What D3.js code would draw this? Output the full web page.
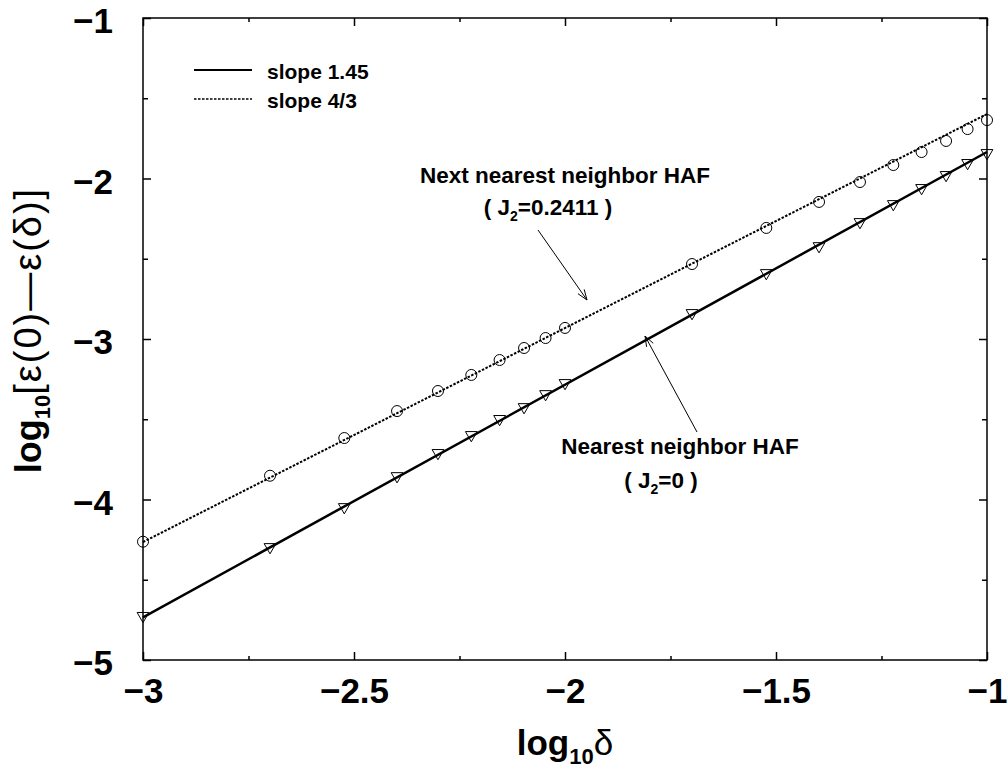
<!DOCTYPE html>
<html>
<head>
<meta charset="utf-8">
<script src="https://cdn.jsdelivr.net/npm/d3@7"></script>
<style>
  body { margin: 0; background: #fff; }
  text { font-family: "Liberation Sans", Arial, sans-serif; font-weight: bold; fill: #000; }
</style>
</head>
<body>
<div class="board"></div>
<script>
// log10 of delta (0.001 ... 0.1)
var logDelta = [-3, -2.699, -2.523, -2.398, -2.301, -2.222, -2.155, -2.097, -2.046, -2,
                -1.699, -1.523, -1.398, -1.301, -1.222, -1.155, -1.097, -1.046, -1];
// next nearest neighbor HAF (J2=0.2411), circles
var nnnValues = [-4.263, -3.852, -3.617, -3.449, -3.324, -3.224, -3.131, -3.056, -2.994, -2.931,
                 -2.533, -2.308, -2.146, -2.022, -1.916, -1.835, -1.766, -1.692, -1.636];
// nearest neighbor HAF (J2=0), triangles
var nnValues = [-4.725, -4.296, -4.047, -3.854, -3.710, -3.598, -3.498, -3.424, -3.343, -3.274,
                -2.838, -2.589, -2.421, -2.271, -2.159, -2.059, -1.978, -1.903, -1.841];
// fitted lines: slope and intercept
var fitNames = ["slope 1.45", "slope 4/3"];
var fitSlopes = [1.45, 4 / 3];
var fitIntercepts = [-0.385, -0.265];
var xTicks = [-3, -2.5, -2, -1.5, -1];
var yTicks = [-5, -4, -3, -2, -1];

var play = function () {

  var opts = { width: 1008, height: 771 };
  var margin = { left: 143, right: 21, top: 18, bottom: 111 };

  var svg = d3.select(".board").append("svg")
    .attr("width", opts.width)
    .attr("height", opts.height);

  var x = d3.scaleLinear().domain([-3, -1]).range([margin.left, opts.width - margin.right]);
  var y = d3.scaleLinear().domain([-5, -1]).range([opts.height - margin.bottom, margin.top]);

  var fmt = function (d) { return d3.format("")(d).replace("-", "\u2212"); };
  var minorX = d3.range(-2.75, -1, 0.5);
  var minorY = d3.range(-4.5, -1, 1);

  // ticks point inward on all four sides
  var gx = svg.append("g").attr("transform", "translate(0," + y(-5) + ")")
    .call(d3.axisBottom(x).tickValues(xTicks).tickSize(-8).tickFormat(fmt).tickPadding(18));
  gx.selectAll("text").style("font-size", "35px").attr("dy", "0.71em");
  svg.append("g").attr("transform", "translate(0," + y(-5) + ")")
    .call(d3.axisBottom(x).tickValues(minorX).tickSize(-4).tickFormat(""));
  svg.append("g").attr("transform", "translate(0," + y(-1) + ")")
    .call(d3.axisTop(x).tickValues(xTicks).tickSize(-8).tickFormat(""));
  svg.append("g").attr("transform", "translate(0," + y(-1) + ")")
    .call(d3.axisTop(x).tickValues(minorX).tickSize(-4).tickFormat(""));

  var gy = svg.append("g").attr("transform", "translate(" + x(-3) + ",0)")
    .call(d3.axisLeft(y).tickValues(yTicks).tickSize(-8).tickFormat(fmt).tickPadding(30));
  gy.selectAll("text").style("font-size", "35px").attr("dy", "0.42em");
  svg.append("g").attr("transform", "translate(" + x(-3) + ",0)")
    .call(d3.axisLeft(y).tickValues(minorY).tickSize(-5).tickFormat(""));
  svg.append("g").attr("transform", "translate(" + x(-1) + ",0)")
    .call(d3.axisRight(y).tickValues(yTicks).tickSize(-8).tickFormat(""));
  svg.append("g").attr("transform", "translate(" + x(-1) + ",0)")
    .call(d3.axisRight(y).tickValues(minorY).tickSize(-5).tickFormat(""));

  svg.selectAll(".domain").remove();
  svg.selectAll(".tick line").attr("stroke", "#000").attr("stroke-width", 1.5);

  // frame
  svg.append("rect")
    .attr("x", x(-3)).attr("y", y(-1))
    .attr("width", x(-1) - x(-3)).attr("height", y(-5) - y(-1))
    .attr("fill", "none").attr("stroke", "#000").attr("stroke-width", 1.5);

  // fit lines
  var dashes = [null, "2.5,1.5"];
  var widths = [2.5, 2];
  fitSlopes.forEach(function (s, i) {
    var pts = [-3, -1].map(function (v) { return [v, s * v + fitIntercepts[i]]; });
    svg.append("path")
      .attr("d", d3.line().x(function (d) { return x(d[0]); }).y(function (d) { return y(d[1]); })(pts))
      .attr("fill", "none").attr("stroke", "#000")
      .attr("stroke-width", widths[i])
      .attr("stroke-dasharray", dashes[i]);
  });

  // markers
  svg.selectAll("circle.nnn").data(logDelta).enter().append("circle")
    .attr("class", "nnn")
    .attr("cx", function (d) { return x(d); })
    .attr("cy", function (d, i) { return y(nnnValues[i]); })
    .attr("r", 5.5)
    .attr("fill", "none").attr("stroke", "#000").attr("stroke-width", 1);

  var tri = d3.symbol().type(d3.symbolTriangle).size(60);
  svg.selectAll("path.nn").data(logDelta).enter().append("path")
    .attr("class", "nn")
    .attr("d", tri)
    .attr("transform", function (d, i) { return "translate(" + x(d) + "," + y(nnValues[i]) + ") rotate(180)"; })
    .attr("fill", "none").attr("stroke", "#000").attr("stroke-width", 1);

  // legend
  fitNames.forEach(function (name, i) {
    var ly = 70 + i * 29;
    svg.append("line")
      .attr("x1", 194).attr("x2", 252).attr("y1", ly).attr("y2", ly)
      .attr("stroke", "#000").attr("stroke-width", widths[i] - 0.5)
      .attr("stroke-dasharray", dashes[i]);
    svg.append("text").attr("x", 267).attr("y", ly + 9)
      .style("font-size", "21px").text(name);
  });

  // annotations
  var label = function (cx, by, main, sub, rest) {
    var t = svg.append("text").attr("x", cx).attr("y", by).attr("text-anchor", "middle")
      .style("font-size", "22.5px");
    t.append("tspan").text(main);
    if (sub) {
      t.append("tspan").attr("dy", 6).style("font-size", "14px").text(sub);
      t.append("tspan").attr("dy", -6).text(rest);
    }
  };
  label(565, 183, "Next nearest neighbor HAF");
  label(548, 215, "( J", "2", "=0.2411 )");
  label(680, 454, "Nearest neighbor HAF");
  label(661, 488, "( J", "2", "=0 )");

  var arrow = function (x1, y1, x2, y2) {
    svg.append("line").attr("x1", x1).attr("y1", y1).attr("x2", x2).attr("y2", y2)
      .attr("stroke", "#000").attr("stroke-width", 1);
    var a = Math.atan2(y2 - y1, x2 - x1), L = 11, w = 0.35;
    var p = [[x2 - L * Math.cos(a - w), y2 - L * Math.sin(a - w)], [x2, y2],
             [x2 - L * Math.cos(a + w), y2 - L * Math.sin(a + w)]];
    svg.append("path").attr("d", d3.line()(p)).attr("fill", "none")
      .attr("stroke", "#000").attr("stroke-width", 1);
  };
  arrow(538, 230, 587, 300);
  arrow(697, 432, 645, 336);

  // axis titles
  var xl = svg.append("text").attr("x", 565).attr("y", 755).attr("text-anchor", "middle")
    .style("font-size", "35px");
  xl.append("tspan").text("log");
  xl.append("tspan").attr("dy", 9).style("font-size", "22px").text("10");
  xl.append("tspan").attr("dy", -9).style("font-weight", "normal").text("\u03b4");

  var yl = svg.append("text").attr("transform", "translate(41,330) rotate(-90)")
    .attr("text-anchor", "middle").style("font-size", "36px");
  yl.append("tspan").text("log");
  yl.append("tspan").attr("dy", 9).style("font-size", "22px").text("10");
  yl.append("tspan").attr("dy", -9).style("font-weight", "normal").style("font-size", "38px")
    .style("letter-spacing", "2px").text("[\u03b5(0)\u2014\u03b5(\u03b4)]");
};

play();
</script>
</body>
</html>
